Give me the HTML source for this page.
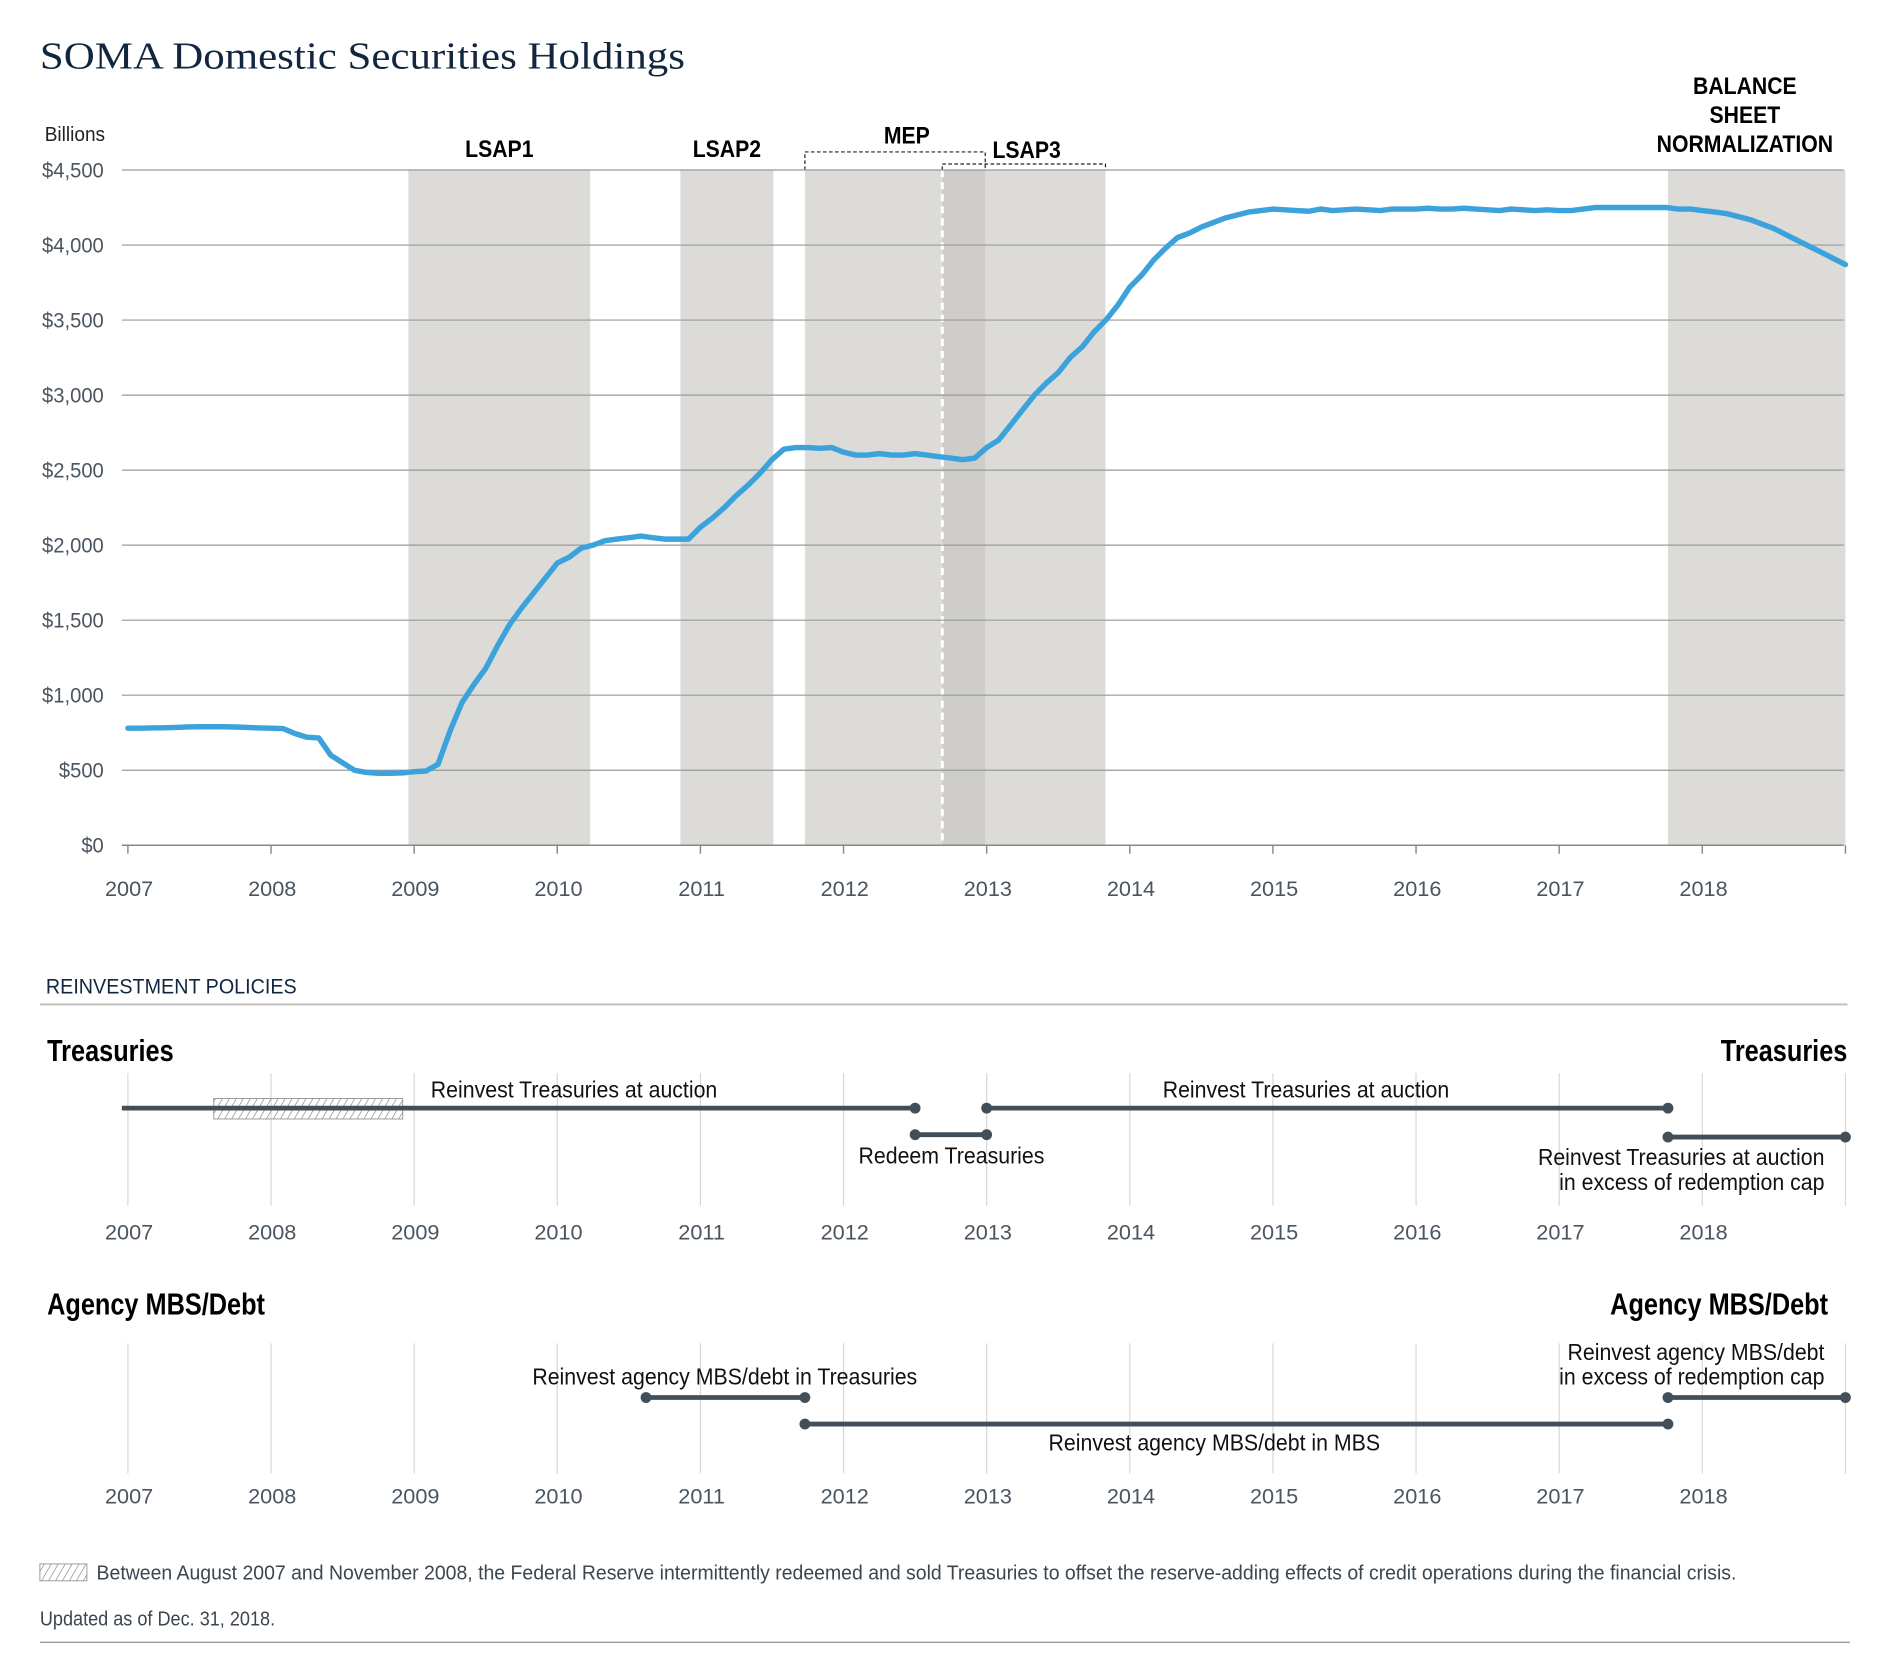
<!DOCTYPE html>
<html><head><meta charset="utf-8">
<style>
html,body{margin:0;padding:0;background:#fff;}
svg{display:block;}
text{font-family:"Liberation Sans Narrow","Liberation Sans",sans-serif;}
.ax{fill:#4a5560;font-size:18px;}
.lbl{fill:#111;font-size:19px;}
.hd{fill:#000;font-size:25px;font-weight:bold;}
.sh{fill:#000;font-size:20px;font-weight:bold;}
</style></head>
<body>
<svg id="chart" width="1880" height="1664" viewBox="0 0 1559 1380">
<defs>
<pattern id="hatch" width="5" height="5" patternUnits="userSpaceOnUse" patternTransform="rotate(30)">
<line x1="0" y1="0" x2="0" y2="5" stroke="#777" stroke-width="1"/>
</pattern>
</defs>
<text x="33" y="57" textLength="535" lengthAdjust="spacingAndGlyphs" style="font-family:'Liberation Serif',serif;font-size:32px;fill:#12263f">SOMA Domestic Securities Holdings</text>
<text x="37" y="117" class="sq93" style="font-size:17px;fill:#222">Billions</text>
<g id="shades"></g>
<g id="grid"></g>
<g id="main"></g>
<line x1="33" y1="833" x2="1532" y2="833" stroke="#bbb" stroke-width="1.5"/>
<text x="38" y="824" class="sq91" style="font-size:18px;fill:#12263f">REINVESTMENT POLICIES</text>
<text x="39" y="880" class="hd">Treasuries</text>
<text x="1532" y="880" class="hd" text-anchor="end">Treasuries</text>
<text x="39" y="1090" class="hd">Agency MBS/Debt</text>
<text x="1516" y="1090" class="hd" text-anchor="end">Agency MBS/Debt</text>
<g id="tl"></g>
<rect x="33" y="1297" width="39" height="14" fill="url(#hatch)" stroke="#999" stroke-width="0.8"/>
<text x="80" y="1310" style="font-size:16.5px;fill:#3a4651" textLength="1360" lengthAdjust="spacingAndGlyphs">Between August 2007 and November 2008, the Federal Reserve intermittently redeemed and sold Treasuries to offset the reserve-adding effects of credit operations during the financial crisis.</text>
<text x="33" y="1348" class="sq91" style="font-size:16.5px;fill:#3a4651">Updated as of Dec. 31, 2018.</text>
<line x1="33" y1="1362" x2="1534" y2="1362" stroke="#999" stroke-width="1.2"/>
</svg>
<script>
const years = [2007,2008,2009,2010,2011,2012,2013,2014,2015,2016,2017,2018];
const yTicks = [0,500,1000,1500,2000,2500,3000,3500,4000,4500];
const yTickLabels = ["$0","$500","$1,000","$1,500","$2,000","$2,500","$3,000","$3,500","$4,000","$4,500"];
const startYear = 2007;
// monthly holdings (billions), Jan 2007 .. Dec 2018 plus end value
const holdings = [
780,780,782,783,785,788,790,790,790,788,785,782,
780,778,745,720,715,600,550,500,485,480,480,482,
490,495,540,760,950,1070,1180,1330,1470,1580,1680,1780,
1880,1920,1980,2000,2030,2040,2050,2060,2050,2040,2040,2040,
2120,2180,2250,2330,2400,2480,2570,2640,2650,2650,2645,2650,
2620,2600,2600,2610,2600,2600,2610,2600,2590,2580,2570,2580,
2650,2700,2800,2900,3000,3080,3150,3250,3320,3420,3500,3600,
3720,3800,3900,3980,4050,4080,4120,4150,4180,4200,4220,4230,
4240,4235,4230,4225,4240,4230,4235,4240,4235,4230,4240,4240,
4240,4245,4240,4240,4245,4240,4235,4230,4240,4235,4230,4235,
4230,4230,4240,4250,4250,4250,4250,4250,4250,4250,4240,4240,
4230,4220,4210,4190,4170,4140,4110,4070,4030,3990,3950,3910,
3870];
const programs = ["LSAP1","LSAP2","MEP","LSAP3","BALANCE SHEET NORMALIZATION"];
const programStart = [2008.96,2010.86,2011.73,2012.69,2017.76];
const programEnd = [2010.23,2011.51,2012.99,2013.83,2019.0];

const NS="http://www.w3.org/2000/svg";
const X0=106, PX=118.7, Y0=701, YMAX=4500, YH=560;
const xs=t=>X0+(t-startYear)*PX;
const ys=v=>Y0-v/YMAX*YH;
function mk(tag,attrs,parent,txt){const e=document.createElementNS(NS,tag);for(const k in attrs)e.setAttribute(k,attrs[k]);if(txt!==undefined)e.textContent=txt;parent.appendChild(e);return e;}

const sh=document.getElementById('shades');
programs.forEach((p,i)=>{
  const r=mk('rect',{x:xs(programStart[i]),y:ys(4500),width:xs(programEnd[i])-xs(programStart[i]),height:ys(0)-ys(4500),fill:'#dcdbd8'},sh);
  
  
});
const ov=mk('rect',{x:xs(programStart[3]),y:ys(4500),width:xs(programEnd[2])-xs(programStart[3]),height:ys(0)-ys(4500),fill:'#cfcdca'},sh);


const dl=mk('line',{x1:xs(programStart[3]),x2:xs(programStart[3]),y1:ys(4500),y2:ys(0),stroke:'#fff','stroke-width':2.5,'stroke-dasharray':'6,4'},sh);


[[0,130],[1,130]].forEach(([i,y])=>{
  const t=mk('text',{x:(xs(programStart[i])+xs(programEnd[i]))/2,y:y,'text-anchor':'middle',class:'sh'},sh,programs[i]);
  
  
});
const mep=mk('text',{x:752,y:119,'text-anchor':'middle',class:'sh'},sh,programs[2]);


const l3=mk('text',{x:823,y:131,class:'sh'},sh,programs[3]);


const b1=mk('path',{d:`M${xs(programStart[2])},141 V126 H${xs(programEnd[2])} V141`,fill:'none',stroke:'#222','stroke-width':1,'stroke-dasharray':'3,2'},sh);


const b2=mk('path',{d:`M${xs(programStart[3])},141 V136 H${xs(programEnd[3])} V141`,fill:'none',stroke:'#222','stroke-width':1,'stroke-dasharray':'3,2'},sh);


["BALANCE","SHEET","NORMALIZATION"].forEach((w,k)=>{
  const t=mk('text',{x:1447,y:78+k*24,'text-anchor':'middle',class:'sh'},sh,w);
  
  
});

const g=document.getElementById('grid');
yTicks.forEach((v,i)=>{
  if(v>0){const l=mk('line',{x1:101,x2:1529,y1:ys(v),y2:ys(v),stroke:'#999','stroke-width':1},g);
  
  }
  const t=mk('text',{x:86,y:ys(v)+6,'text-anchor':'end',class:'ax sq93'},g,yTickLabels[i]);
  
  
});
const xa=mk('line',{x1:101,x2:1529,y1:Y0,y2:Y0,stroke:'#888','stroke-width':1.2},g);


years.concat([2019]).forEach(yr=>{
  const tk=mk('line',{x1:xs(yr),x2:xs(yr),y1:Y0,y2:Y0+7,stroke:'#888','stroke-width':1.2},g);
  
  
  if(yr<2019){const t=mk('text',{x:xs(yr)+1,y:743,'text-anchor':'middle',class:'ax'},g,String(yr));
  
  }
});

const m=document.getElementById('main');
const pts=holdings.map((v,i)=>xs(startYear+i/12).toFixed(1)+','+ys(v).toFixed(1)).join(' ');
const pl=mk('polyline',{points:pts,fill:'none',stroke:'#3ca2dc','stroke-width':4.5,'stroke-linejoin':'round','stroke-linecap':'round'},m);



const tl=document.getElementById('tl');
function timeline(top,bot,lab){
  years.concat([2019]).forEach(yr=>{
    const l=mk('line',{x1:xs(yr),x2:xs(yr),y1:top,y2:bot,stroke:'#d8d8d8','stroke-width':1},tl);
    
    
    if(yr<2019){const t=mk('text',{x:xs(yr)+1,y:lab,'text-anchor':'middle',class:'ax'},tl,String(yr));
    
    }
  });
}
timeline(890,1000,1028);
timeline(1114,1222,1247);
const hb=mk('rect',{x:xs(2007.6),y:911,width:xs(2008.92)-xs(2007.6),height:17,fill:'url(#hatch)',stroke:'#999','stroke-width':0.8},tl);


const segStart=[2006.96,2012.5,2013.0,2017.76,2010.62,2011.73,2017.76];
const segEnd=[2012.5,2013.0,2017.76,2019.0,2011.73,2017.76,2019.0];
const segY=[919,941,919,943,1159,1181,1159];
const segName=['reinvest-treasuries-1','redeem-treasuries','reinvest-treasuries-2','reinvest-treasuries-cap','agency-in-treasuries','agency-in-mbs','agency-cap'];
segStart.forEach((s,i)=>{
  const l=mk('line',{x1:i==0?101:xs(s),x2:xs(segEnd[i]),y1:segY[i],y2:segY[i],stroke:'#434f58','stroke-width':4},tl);
  
  
  if(i>0){const c=mk('circle',{cx:xs(s),cy:segY[i],r:4.5,fill:'#434f58'},tl);
  
  }
  const c2=mk('circle',{cx:xs(segEnd[i]),cy:segY[i],r:4.5,fill:'#434f58'},tl);
  
  
});
const labs=[[476,910,'middle','Reinvest Treasuries at auction'],[789,965,'middle','Redeem Treasuries'],[1083,910,'middle','Reinvest Treasuries at auction'],
[1513,966,'end','Reinvest Treasuries at auction'],[1513,987,'end','in excess of redemption cap'],
[601,1148,'middle','Reinvest agency MBS/debt in Treasuries'],[1007,1203,'middle','Reinvest agency MBS/debt in MBS'],
[1513,1128,'end','Reinvest agency MBS/debt'],[1513,1148,'end','in excess of redemption cap']];
labs.forEach(a=>{
  const t=mk('text',{x:a[0],y:a[1],'text-anchor':a[2],class:'lbl'},tl,a[3]);
  
  
});

function squeeze(sel,f){document.querySelectorAll(sel).forEach(t=>{const w=t.getComputedTextLength();t.setAttribute('textLength',(w*f).toFixed(1));t.setAttribute('lengthAdjust','spacingAndGlyphs');});}
squeeze('text.hd',0.84);
squeeze('text.sh',0.88);
squeeze('text.lbl',0.93);
squeeze('text.sq93',0.93);
squeeze('text.sq91',0.91);
</script>
</body></html>
